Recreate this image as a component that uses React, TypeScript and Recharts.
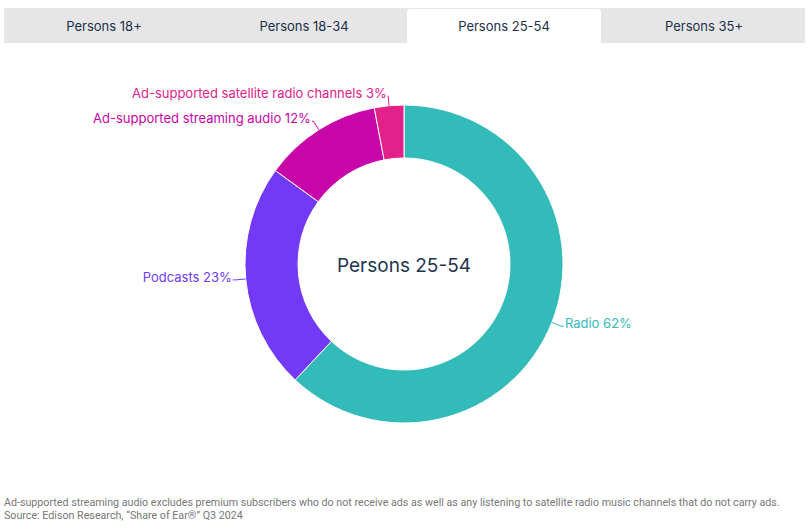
import React from 'react';
import { PieChart, Pie, Cell } from 'recharts';

const tabs = ['Persons 18+', 'Persons 18-34', 'Persons 25-54', 'Persons 35+'];
const activeTab = 2;
const centerTitle = 'Persons 25-54';
const categories = ['Radio', 'Podcasts', 'Ad-supported streaming audio', 'Ad-supported satellite radio channels'];
const shares = [62, 23, 12, 3];
const colors = ['#33BBBA', '#7239F6', '#C705A8', '#E3218A'];
const footnotes = [
  'Ad-supported streaming audio excludes premium subscribers who do not receive ads as well as any listening to satellite radio music channels that do not carry ads.',
  'Source: Edison Research, \u201cShare of Ear\u00ae\u201d Q3 2024',
];

const data = categories.map((name, i) => ({ name, value: shares[i] }));
const RADIAN = Math.PI / 180;
const CX = 404;
const CY = 264;

const renderLabel = (props: any) => {
  const { cx, cy, midAngle, outerRadius, index } = props;
  const cos = Math.cos(-midAngle * RADIAN);
  const sin = Math.sin(-midAngle * RADIAN);
  const ax = cx + outerRadius * cos;
  const ay = cy + outerRadius * sin;
  const bx = cx + (outerRadius + 10) * cos;
  const by = cy + (outerRadius + 10) * sin;
  const dir = cos >= 0 ? 1 : -1;
  const h = Math.abs(cos) * 3;
  const ex = bx + dir * h;
  const color = colors[index];
  return (
    <g>
      <path d={`M${ax},${ay} L${bx},${by} L${ex},${by}`} stroke={color} fill="none" strokeWidth={1} />
      <text
        x={ex + dir * 1}
        y={by - 3}
        textAnchor={dir > 0 ? 'start' : 'end'}
        dominantBaseline="central"
        fill={color}
        fontSize={13}
        fontFamily="Inter"
      >
        {`${categories[index]} ${shares[index]}%`}
      </text>
    </g>
  );
};

export default function App() {
  return (
    <div style={{ position: 'fixed', left: 0, top: 0, width: 809, height: 530, background: '#fff', fontFamily: 'Inter' }}>
      <div style={{ position: 'absolute', left: 4, top: 8, width: 801, height: 35, background: '#E6E6E6' }}>
        {tabs.map((t, i) => (
          <div
            key={t}
            style={{
              position: 'absolute',
              left: i * 200 + (i === activeTab ? 3 : 0),
              top: i === activeTab ? 1 : 0,
              width: i === activeTab ? 194 : 200,
              height: i === activeTab ? 34 : 35,
              background: i === activeTab ? '#fff' : 'transparent',
              borderRadius: i === activeTab ? '3px 3px 0 0' : 0,
              display: 'flex',
              alignItems: 'center',
              justifyContent: 'center',
              fontSize: 13,
              color: '#1C2F4A',
            }}
          >
            {t}
          </div>
        ))}
      </div>
      <div style={{ position: 'absolute', left: 0, top: 0 }}>
        <PieChart width={809} height={480} margin={{ top: 0, right: 0, bottom: 0, left: 0 }}>
          <Pie
            data={data}
            dataKey="value"
            nameKey="name"
            cx={CX}
            cy={CY}
            innerRadius={106}
            outerRadius={159}
            startAngle={90}
            endAngle={-270}
            stroke="#fff"
            strokeWidth={1}
            isAnimationActive={false}
            labelLine={false}
            label={renderLabel}
          >
            {data.map((d, i) => (
              <Cell key={d.name} fill={colors[i]} />
            ))}
          </Pie>
          <text
            x={CX}
            y={CY + 1}
            textAnchor="middle"
            dominantBaseline="central"
            fill="#1E3450"
            fontSize={19}
            fontFamily="Inter"
          >
            {centerTitle}
          </text>
        </PieChart>
      </div>
      <div style={{ position: 'absolute', left: 4, top: 496, fontFamily: 'Roboto', fontSize: 10.7, color: '#777', lineHeight: '13px', whiteSpace: 'nowrap' }}>
        {footnotes.map((f) => (
          <div key={f}>{f}</div>
        ))}
      </div>
    </div>
  );
}
